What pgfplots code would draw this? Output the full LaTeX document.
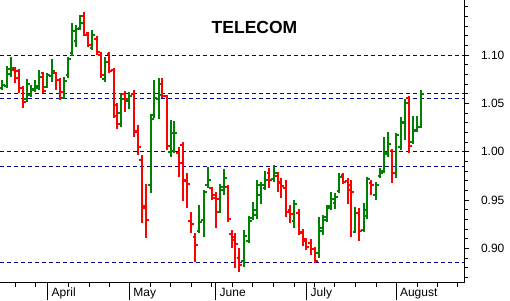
\documentclass[border=0pt]{standalone}
\usepackage{pgfplots}
\pgfplotsset{compat=1.18}
\usepackage{pgfplotstable}
\usepackage{fontspec}
\setmainfont{Liberation Sans}
\definecolor{upc}{HTML}{008000}
\definecolor{dnc}{HTML}{FF0000}
\definecolor{navyc}{HTML}{000088}
\pgfdeclareplotmark{ctick}{\pgfpathmoveto{\pgfpointorigin}\pgfpathlineto{\pgfpoint{2.8pt}{0pt}}\pgfusepathqstroke}
\pgfdeclareplotmark{otick}{\pgfpathmoveto{\pgfpointorigin}\pgfpathlineto{\pgfpoint{-2.8pt}{0pt}}\pgfusepathqstroke}

% x = trading-day position (pixel units), o h l c
\pgfplotstableread{
x o h l c
1.7 1.066 1.0741 1.0638 1.069
6.7 1.068 1.0886 1.0655 1.086
10.7 1.080 1.0976 1.0769 1.087
26.7 1.054 1.0748 1.0517 1.070
30.7 1.059 1.0690 1.0569 1.065
34.7 1.064 1.0741 1.0621 1.068
38.7 1.066 1.0845 1.0638 1.077
46.7 1.067 1.0810 1.0655 1.079
51.7 1.078 1.0955 1.0724 1.083
64 1.056 1.0769 1.0541 1.073
68.3 1.079 1.0976 1.0759 1.096
72.3 1.102 1.1328 1.0990 1.125
76.3 1.115 1.1310 1.1086 1.127
80.3 1.128 1.1414 1.1259 1.133
92.3 1.107 1.1259 1.1052 1.121
105 1.075 1.0976 1.0724 1.093
121 1.040 1.0610 1.0258 1.054
129 1.052 1.0620 1.0437 1.058
150.7 0.965 1.0389 0.9575 1.034
154.3 1.038 1.0741 1.0344 1.056
158.7 1.054 1.0759 1.0337 1.059
171 1.000 1.0327 0.9941 1.019
174.3 1.001 1.0320 0.9982 1.019
199.3 0.918 0.9447 0.9161 0.927
203.7 0.929 0.9602 0.9113 0.958
207.7 0.965 0.9837 0.9620 0.971
220 0.938 0.9665 0.9361 0.963
223.7 0.960 0.9816 0.9551 0.973
243.7 0.887 0.9189 0.8809 0.913
248.7 0.908 0.9333 0.9057 0.928
252.7 0.931 0.9482 0.9292 0.940
257 0.934 0.9706 0.9299 0.965
261 0.955 0.9689 0.9458 0.966
265.3 0.962 0.9803 0.9603 0.971
273.7 0.972 0.9861 0.9689 0.978
294.3 0.928 0.9499 0.9206 0.946
318.7 0.895 0.9326 0.8895 0.921
322.7 0.918 0.9344 0.9137 0.929
327 0.932 0.9447 0.9275 0.942
331 0.944 0.9585 0.9396 0.951
335.3 0.947 0.9575 0.9402 0.953
339.3 0.959 0.9782 0.9568 0.974
355.3 0.917 0.9423 0.9154 0.937
363.7 0.919 0.9471 0.9171 0.940
367.3 0.933 0.9741 0.9299 0.972
376 0.955 0.9689 0.9499 0.966
380.3 0.975 0.9827 0.9723 0.978
384 0.980 1.0148 0.9775 0.998
388 0.999 1.0199 0.9947 1.008
396.3 0.978 1.0189 0.9723 1.017
400.7 1.005 1.0362 1.0017 1.031
404.7 1.030 1.0541 1.0120 1.050
412.7 1.010 1.0368 1.0079 1.021
417 1.022 1.0368 1.0206 1.025
421 1.025 1.0638 1.0241 1.060
}\updata

\pgfplotstableread{
x o h l c
14.7 1.085 1.0879 1.0714 1.076
18.7 1.083 1.0852 1.0603 1.066
22.7 1.066 1.0679 1.0448 1.051
43.3 1.081 1.0828 1.0603 1.063
55.7 1.081 1.0828 1.0638 1.074
60 1.074 1.0765 1.0534 1.062
84 1.140 1.1448 1.1197 1.121
88.3 1.123 1.1241 1.1086 1.110
96.7 1.117 1.1200 1.1000 1.103
100.7 1.100 1.1034 1.0759 1.079
109.3 1.101 1.1034 1.0810 1.083
113.7 1.084 1.0862 1.0345 1.037
117.3 1.048 1.0500 1.0231 1.029
125 1.060 1.0631 1.0413 1.054
133.7 1.060 1.0638 1.0154 1.020
137.7 1.021 1.0275 0.9965 1.005
141.7 0.991 0.9965 0.9264 0.942
145.7 0.944 0.9665 0.9102 0.929
162.3 1.070 1.0759 1.0551 1.058
166.7 1.058 1.0586 1.0017 1.006
178.7 0.999 1.0051 0.9734 0.988
182.7 1.007 1.0103 0.9492 0.971
186.7 0.970 0.9775 0.9413 0.967
191 0.928 0.9378 0.9154 0.925
195.3 0.912 0.9154 0.8861 0.903
212 0.962 0.9637 0.9499 0.952
216 0.955 0.9585 0.9213 0.951
228 0.963 0.9654 0.9275 0.930
232 0.915 0.9189 0.9000 0.909
235.3 0.912 0.9154 0.8792 0.904
239.3 0.890 0.8999 0.8757 0.883
269.3 0.978 0.9827 0.9620 0.971
277.7 0.975 0.9792 0.9585 0.969
281.3 0.968 0.9723 0.9516 0.964
286 0.962 0.9706 0.9320 0.938
290.3 0.940 0.9447 0.9264 0.935
298.7 0.937 0.9402 0.9137 0.916
302.7 0.917 0.9195 0.9023 0.910
306.3 0.908 0.9102 0.8982 0.901
310.7 0.906 0.9092 0.8930 0.899
314.7 0.899 0.9016 0.8844 0.887
343.3 0.976 0.9782 0.9665 0.969
347.7 0.970 0.9723 0.9458 0.960
351.3 0.965 0.9706 0.9113 0.958
359 0.937 0.9413 0.9078 0.918
371.3 0.968 0.9706 0.9551 0.965
392.3 1.001 1.0023 0.9672 0.978
408.7 1.056 1.0575 0.9989 1.006
}\dndata

\begin{document}
\begin{tikzpicture}
\path[use as bounding box] (0,-18pt) rectangle (510pt,282pt);
\begin{axis}[
  scale only axis, width=464pt, height=282pt,
  xmin=0, xmax=464, ymin=0.86513, ymax=1.15691,
  axis line style={draw=none},
  clip mode=individual,
  ytick={0.90,0.95,1.00,1.05,1.10},
  minor ytick={0.87,0.88,0.89,0.91,0.92,0.93,0.94,0.96,0.97,0.98,0.99,1.01,1.02,1.03,1.04,1.06,1.07,1.08,1.09,1.11,1.12,1.13,1.14,1.15},
  ytick pos=right, yticklabel pos=right,
  xtick pos=left,
  tick align=outside,
  major tick length=4.5pt, minor tick length=4pt,
  tick style={black, line width=0.8pt},
  /pgf/number format/.cd, fixed, fixed zerofill, precision=2, assume math mode=true, /pgfplots/.cd,
  yticklabel style={font=\fontsize{12}{14}\selectfont, anchor=west, xshift=9pt},
  xtick={15,35.7,68.3,89,109.7,150,170.7,191,211.7,232.7,252.7,273.3,294,314,334.7,355.3,376,417.3,437.3,457.3},
  xticklabels={},
  extra x ticks={47.7,129.3,215.7,306.7,396},
  extra x tick labels={April,May,June,July,August},
  extra x tick style={major tick length=18pt,
     xticklabel style={font=\fontsize{12}{14}\selectfont, anchor=base west, xshift=0.5pt, yshift=4pt}},
]
\addplot[navyc, line width=0.9pt, dash pattern=on 4pt off 3pt] coordinates {(0,1.0996) (464,1.0996)};
\addplot[navyc, line width=0.9pt, dash pattern=on 4pt off 3pt] coordinates {(0,1.0600) (464,1.0600)};
\addplot[navyc, line width=0.9pt, dash pattern=on 4pt off 3pt] coordinates {(0,1.0548) (464,1.0548)};
\addplot[navyc, line width=0.9pt, dash pattern=on 4pt off 3pt] coordinates {(0,1.0003) (464,1.0003)};
\addplot[navyc, line width=0.9pt, dash pattern=on 4pt off 3pt] coordinates {(0,0.9847) (464,0.9847)};
\addplot[navyc, line width=0.9pt, dash pattern=on 4pt off 3pt] coordinates {(0,0.8854) (464,0.8854)};

\addplot[upc, only marks, mark=ctick, mark options={line width=2pt},
  error bars/.cd, y dir=both, y explicit, error mark=none,
  error bar style={line width=2pt, upc}]
  table[x=x, y=c, y error plus expr={\thisrow{h}-\thisrow{c}}, y error minus expr={\thisrow{c}-\thisrow{l}}] {\updata};
\addplot[upc, only marks, mark=otick, mark options={line width=2pt}] table[x=x, y=o] {\updata};

\addplot[dnc, only marks, mark=ctick, mark options={line width=2pt},
  error bars/.cd, y dir=both, y explicit, error mark=none,
  error bar style={line width=2pt, dnc}]
  table[x=x, y=c, y error plus expr={\thisrow{h}-\thisrow{c}}, y error minus expr={\thisrow{c}-\thisrow{l}}] {\dndata};
\addplot[dnc, only marks, mark=otick, mark options={line width=2pt}] table[x=x, y=o] {\dndata};

\draw[black, line width=1pt] (rel axis cs:0,0) -- (rel axis cs:1,0) -- (rel axis cs:1,1) -- (rel axis cs:0,1);
\node[font=\fontsize{17.5}{20}\selectfont\bfseries] at (rel axis cs:0.5485,0.904) {TELECOM};
\end{axis}
\end{tikzpicture}
\end{document}
